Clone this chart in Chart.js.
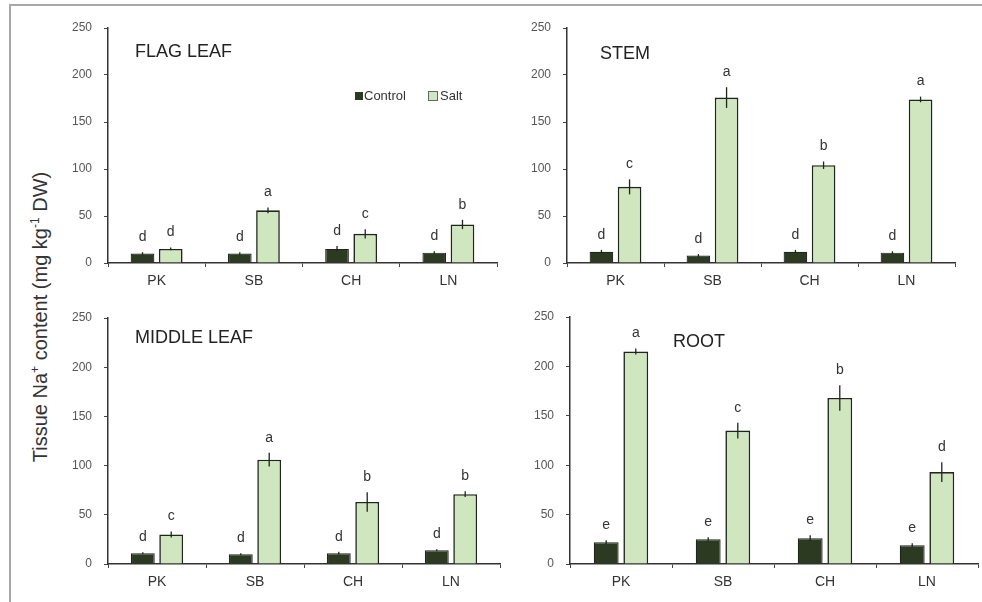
<!DOCTYPE html>
<html>
<head>
<meta charset="utf-8">
<script src="https://cdn.jsdelivr.net/npm/chart.js@4.4.1/dist/chart.umd.min.js"></script>
<style>
  html, body { margin: 0; padding: 0; background: #fff; }
  #wrap { position: relative; width: 982px; height: 602px; overflow: hidden; background: #fff; }
  #wrap canvas { position: absolute; }
  .frameTop { position: absolute; left: 10px; top: 4px; width: 972px; height: 2px; background: #a8a8a8; }
  .frameLeft { position: absolute; left: 9px; top: 4px; width: 2px; height: 598px; background: #a8a8a8; }
  #ytitle {
    position: absolute; left: 40px; top: 317px;
    transform: translate(-50%, -50%) rotate(-90deg);
    white-space: nowrap; font-family: Arial, "Liberation Sans", sans-serif;
    font-size: 20px; color: #333;
  }
  #ytitle sup { font-size: 12px; }
</style>
</head>
<body>
<div id="wrap">
  <div class="frameTop"></div>
  <div class="frameLeft"></div>
  <div id="ytitle">Tissue Na<sup>+</sup> content (mg kg<sup>-1</sup> DW)</div>
  <canvas id="flag"></canvas>
  <canvas id="stem"></canvas>
  <canvas id="middle"></canvas>
  <canvas id="root"></canvas>
</div>
<script>
const categories = ['PK', 'SB', 'CH', 'LN']
const yTicks = [0, 50, 100, 150, 200, 250]
const seriesNames = ['Control', 'Salt']

// FLAG LEAF
const flagControl = [10, 10, 15, 11]
const flagSalt = [15, 56, 31, 41]
const flagControlErr = [1.5, 1.5, 3, 1.5]
const flagSaltErr = [1.5, 3, 5, 5]
const flagControlLetters = ['d', 'd', 'd', 'd']
const flagSaltLetters = ['d', 'a', 'c', 'b']

// STEM
const stemControl = [12, 8, 12, 11]
const stemSalt = [81, 176, 104, 174]
const stemControlErr = [2, 1.5, 2, 1.5]
const stemSaltErr = [8, 11, 4, 3]
const stemControlLetters = ['d', 'd', 'd', 'd']
const stemSaltLetters = ['c', 'a', 'b', 'a']

// MIDDLE LEAF
const middleControl = [11, 10, 11, 14]
const middleSalt = [30, 106, 63, 71]
const middleControlErr = [1, 1, 1.5, 1]
const middleSaltErr = [3, 7, 10, 3]
const middleControlLetters = ['d', 'd', 'd', 'd']
const middleSaltLetters = ['c', 'a', 'b', 'b']

// ROOT
const rootControl = [22, 25, 26, 19]
const rootSalt = [215, 135, 168, 93]
const rootControlErr = [2, 2, 3, 2]
const rootSaltErr = [3, 8, 13, 10]
const rootControlLetters = ['e', 'e', 'e', 'e']
const rootSaltLetters = ['a', 'c', 'b', 'd']

const FONT = 'Arial, "Liberation Sans", sans-serif'
const controlColor = '#2c3a22'
const saltColor = '#cfe6bf'
const edgeColor = '#1e261e'
const textColor = '#333'

const Y_W = 44, X_H = 30, PAD_T = 10, PAD_R = 3

// axis origin, top, right end, zero line (page pixels) + title placement
const panels = [
  { id: 'flag', title: 'FLAG LEAF', ax: 108, top: 28, right: 497, zero: 263, tx: 27, ty: 24, legend: true,
    control: flagControl, salt: flagSalt, cErr: flagControlErr, sErr: flagSaltErr,
    cLet: flagControlLetters, sLet: flagSaltLetters },
  { id: 'stem', title: 'STEM', ax: 567, top: 28, right: 955, zero: 263, tx: 33, ty: 26,
    control: stemControl, salt: stemSalt, cErr: stemControlErr, sErr: stemSaltErr,
    cLet: stemControlLetters, sLet: stemSaltLetters },
  { id: 'middle', title: 'MIDDLE LEAF', ax: 108, top: 318, right: 500, zero: 564, tx: 27, ty: 20,
    control: middleControl, salt: middleSalt, cErr: middleControlErr, sErr: middleSaltErr,
    cLet: middleControlLetters, sLet: middleSaltLetters },
  { id: 'root', title: 'ROOT', ax: 570, top: 317, right: 978, zero: 564, tx: 103, ty: 25,
    control: rootControl, salt: rootSalt, cErr: rootControlErr, sErr: rootSaltErr,
    cLet: rootControlLetters, sLet: rootSaltLetters }
]

// error bars, letters, panel title, legend
const annotate = {
  id: 'annotate',
  afterDatasetsDraw(chart, args, opts) {
    const ctx = chart.ctx
    const y = chart.scales.y
    const area = chart.chartArea
    const p = opts.panel
    const errs = [p.cErr, p.sErr]
    const lets = [p.cLet, p.sLet]
    ctx.save()
    chart.data.datasets.forEach((ds, i) => {
      const meta = chart.getDatasetMeta(i)
      meta.data.forEach((bar, j) => {
        const v = ds.data[j]
        const top = y.getPixelForValue(v + errs[i][j])
        const bot = y.getPixelForValue(Math.max(0, v - errs[i][j]))
        ctx.strokeStyle = edgeColor
        ctx.lineWidth = 1.3
        ctx.beginPath()
        ctx.moveTo(bar.x, top)
        ctx.lineTo(bar.x, bot)
        ctx.stroke()
        ctx.fillStyle = textColor
        ctx.font = '14px ' + FONT
        ctx.textAlign = 'center'
        ctx.textBaseline = 'bottom'
        ctx.fillText(lets[i][j], bar.x, top - 8)
      })
    })
    ctx.fillStyle = '#222'
    ctx.font = '18px ' + FONT
    ctx.textAlign = 'left'
    ctx.textBaseline = 'middle'
    ctx.fillText(p.title, area.left + p.tx, area.top + p.ty)
    if (p.legend) {
      const lx = 355 - p.ax + area.left
      const ly = 96 - p.top + area.top
      ctx.fillStyle = controlColor
      ctx.fillRect(lx, ly - 4, 8, 8)
      ctx.font = '13px ' + FONT
      ctx.fillStyle = textColor
      ctx.fillText(seriesNames[0], lx + 9, ly)
      const sx = lx + 73
      ctx.fillStyle = saltColor
      ctx.fillRect(sx, ly - 5, 10, 10)
      ctx.strokeStyle = '#666'
      ctx.lineWidth = 1
      ctx.strokeRect(sx + 0.5, ly - 4.5, 9, 9)
      ctx.fillStyle = textColor
      ctx.fillText(seriesNames[1], sx + 12, ly)
    }
    ctx.restore()
  }
}

panels.forEach(p => {
  const cv = document.getElementById(p.id)
  const w = p.right - p.ax + Y_W + PAD_R
  const h = p.zero - p.top + PAD_T + X_H
  cv.width = w
  cv.height = h
  cv.style.left = (p.ax - Y_W) + 'px'
  cv.style.top = (p.top - PAD_T) + 'px'

  new Chart(cv, {
    type: 'bar',
    data: {
      labels: categories,
      datasets: [
        { label: seriesNames[0], data: p.control, backgroundColor: controlColor, borderColor: edgeColor, borderWidth: 1.2 },
        { label: seriesNames[1], data: p.salt, backgroundColor: saltColor, borderColor: edgeColor, borderWidth: 1.6 }
      ]
    },
    options: {
      responsive: false,
      animation: false,
      devicePixelRatio: 1,
      layout: { autoPadding: false, padding: { top: PAD_T, right: PAD_R, left: 0, bottom: 0 } },
      datasets: { bar: { categoryPercentage: 0.58, barPercentage: 0.84 } },
      plugins: {
        legend: { display: false },
        tooltip: { enabled: false },
        annotate: { panel: p }
      },
      scales: {
        x: {
          afterFit: s => { s.height = X_H; s.paddingLeft = 0; s.paddingRight = 0 },
          grid: { display: true, drawOnChartArea: false, offset: true, tickLength: 4, color: '#444' },
          border: { display: true, color: '#333', width: 1.5 },
          ticks: { color: textColor, font: { family: FONT, size: 14 }, padding: 6 }
        },
        y: {
          min: 0, max: 250,
          afterFit: s => { s.width = Y_W; s.paddingTop = 0; s.paddingBottom = 0 },
          afterBuildTicks: s => { s.ticks = yTicks.map(v => ({ value: v })) },
          grid: { display: true, drawOnChartArea: false, tickLength: 4, color: '#444' },
          border: { display: true, color: '#333', width: 1.5 },
          ticks: { color: '#555', font: { family: FONT, size: 12 }, padding: 12 }
        }
      }
    },
    plugins: [annotate]
  })
})
</script>
</body>
</html>
